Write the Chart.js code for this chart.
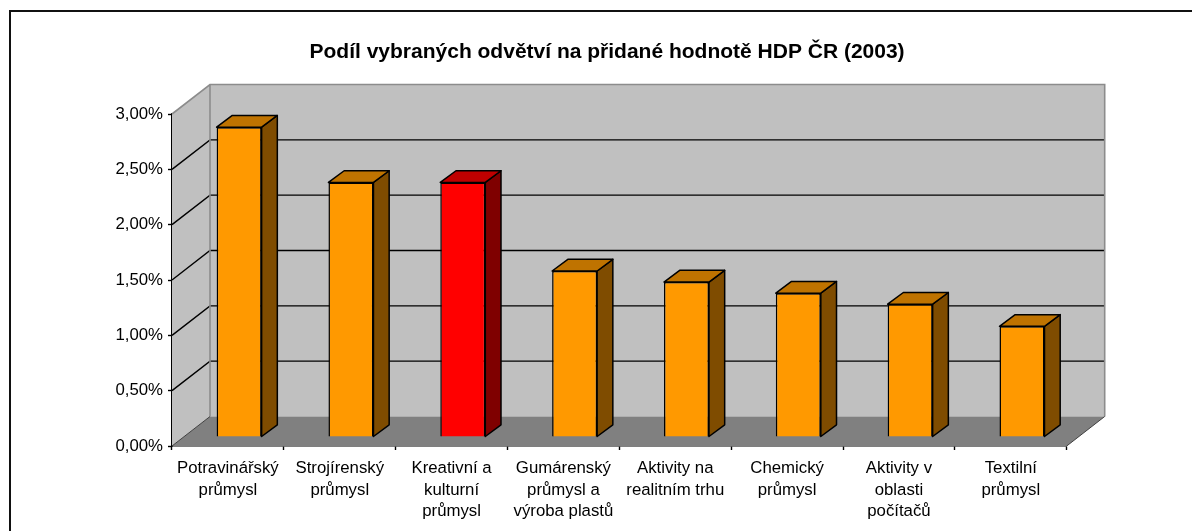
<!DOCTYPE html>
<html lang="cs">
<head>
<meta charset="utf-8">
<title>Podíl vybraných odvětví na přidané hodnotě HDP ČR (2003)</title>
<script src="https://cdn.jsdelivr.net/npm/chart.js@4/dist/chart.umd.min.js"></script>
<style>
  html, body { margin: 0; padding: 0; background: #fff; overflow: hidden; }
  #frame { position: absolute; left: 9px; top: 10px; width: 1183px; height: 521px; box-sizing: border-box;
           border-left: 2px solid #111; border-top: 2px solid #111; }
  #wrap { position: absolute; left: 0; top: 0; width: 1192px; height: 531px; }
</style>
</head>
<body>
<div id="frame"></div>
<div id="wrap"><canvas id="chart" width="1192" height="531"></canvas></div>
<script>
// Data
const categories = [
  ['Potravinářský', 'průmysl'],
  ['Strojírenský', 'průmysl'],
  ['Kreativní a', 'kulturní', 'průmysl'],
  ['Gumárenský', 'průmysl a', 'výroba plastů'],
  ['Aktivity na', 'realitním trhu'],
  ['Chemický', 'průmysl'],
  ['Aktivity v', 'oblasti', 'počítačů'],
  ['Textilní', 'průmysl']
];
const shares = [2.8, 2.3, 2.3, 1.5, 1.4, 1.3, 1.2, 1.0];
const tickLabels = ['0,00%', '0,50%', '1,00%', '1,50%', '2,00%', '2,50%', '3,00%'];
const chartTitle = 'Podíl vybraných odvětví na přidané hodnotě HDP ČR (2003)';
const highlighted = 2; // the red bar

// 3D look: how far the back wall and the bars are pushed
const wallDepth = { x: 38, y: -29.5 };
const barDepth = { x: 15.7, y: -11.7 };
const barShift = { x: 11.2, y: -9 };

const orange = { front: '#FF9900', top: '#BF7300', side: '#7F4C00' };
const red = { front: '#FF0000', top: '#BF0000', side: '#7F0000' };

function poly(ctx, pts, fill, stroke, lw) {
  ctx.beginPath();
  pts.forEach((p, i) => i ? ctx.lineTo(p[0], p[1]) : ctx.moveTo(p[0], p[1]));
  ctx.closePath();
  if (fill) { ctx.fillStyle = fill; ctx.fill(); }
  if (stroke) { ctx.strokeStyle = stroke; ctx.lineWidth = lw; ctx.stroke(); }
}

const box3d = {
  id: 'box3d',
  // the title sits a little right of the canvas centre
  afterLayout(chart) {
    chart.titleBlock.left += 17.7;
    chart.titleBlock.right += 17.7;
  },
  // walls, floor and gridlines behind the bars
  beforeDatasetsDraw(chart) {
    const { ctx, chartArea: a, scales: { y } } = chart;
    const dx = wallDepth.x, dy = wallDepth.y;
    ctx.save();
    ctx.lineJoin = 'miter';
    poly(ctx, [[a.left + dx, a.top + dy], [a.right + dx, a.top + dy], [a.right + dx, a.bottom + dy], [a.left + dx, a.bottom + dy]], '#C0C0C0');
    poly(ctx, [[a.left, a.top], [a.left + dx, a.top + dy], [a.left + dx, a.bottom + dy], [a.left, a.bottom]], '#C0C0C0');

    // gridlines run over the side wall and along the back wall
    ctx.strokeStyle = '#000';
    ctx.lineWidth = 1.4;
    y.ticks.forEach(t => {
      if (t.value === 0 || t.value === 3) return;
      const py = y.getPixelForValue(t.value);
      ctx.beginPath();
      ctx.moveTo(a.left, py);
      ctx.lineTo(a.left + dx, py + dy);
      ctx.lineTo(a.right + dx, py + dy);
      ctx.stroke();
    });

    // grey wall outline
    ctx.strokeStyle = '#8C8C8C';
    ctx.lineWidth = 1.6;
    ctx.beginPath();
    ctx.moveTo(a.left, a.top);
    ctx.lineTo(a.left + dx, a.top + dy);
    ctx.lineTo(a.right + dx, a.top + dy);
    ctx.lineTo(a.right + dx, a.bottom + dy);
    ctx.moveTo(a.left + dx, a.top + dy);
    ctx.lineTo(a.left + dx, a.bottom + dy);
    ctx.stroke();

    // floor
    poly(ctx, [[a.left, a.bottom], [a.left + dx, a.bottom + dy], [a.right + dx, a.bottom + dy], [a.right, a.bottom]], '#808080');
    ctx.strokeStyle = '#404040';
    ctx.lineWidth = 1;
    ctx.beginPath();
    ctx.moveTo(a.left, a.bottom);
    ctx.lineTo(a.left + dx, a.bottom + dy);
    ctx.moveTo(a.right, a.bottom);
    ctx.lineTo(a.right + dx, a.bottom + dy);
    ctx.stroke();
    ctx.restore();

    // side and top faces of every bar, taken from the bar elements
    const dbx = barDepth.x, dby = barDepth.y;
    ctx.save();
    ctx.translate(barShift.x, barShift.y);
    ctx.lineJoin = 'round';
    chart.getDatasetMeta(0).data.forEach((bar, i) => {
      const { x, y: top, base, width } = bar.getProps(['x', 'y', 'base', 'width'], true);
      const l = x - width / 2, r = x + width / 2;
      const c = i === highlighted ? red : orange;
      poly(ctx, [[r, top], [r + dbx, top + dby], [r + dbx, base + dby], [r, base]], c.side, '#000', 1.5);
      poly(ctx, [[l, top], [l + dbx, top + dby], [r + dbx, top + dby], [r, top]], c.top, '#000', 1.5);
    });
    ctx.restore();

    // front faces go through the library, just moved onto the floor
    ctx.save();
    ctx.translate(barShift.x, barShift.y);
  },
  afterDatasetsDraw(chart) {
    chart.ctx.restore();
  }
};

new Chart(document.getElementById('chart'), {
  type: 'bar',
  data: {
    labels: categories,
    datasets: [{
      data: shares,
      backgroundColor: ctx => ctx.dataIndex === highlighted ? red.front : orange.front,
      borderColor: '#000',
      borderWidth: 1.5,
      barPercentage: 0.4025,
      categoryPercentage: 1,
      clip: false
    }]
  },
  options: {
    responsive: false,
    animation: false,
    events: [],
    layout: { padding: { left: 112, right: 125.3, top: 0, bottom: 0 } },
    plugins: {
      legend: { display: false },
      tooltip: { enabled: false },
      title: {
        display: true,
        text: chartTitle,
        color: '#000',
        font: { family: '"Liberation Sans"', size: 21, weight: 'bold', lineHeight: 1.2 },
        padding: { top: 39.4, bottom: 49.4 }
      }
    },
    scales: {
      x: {
        afterFit: s => { s.height = 85; },
        border: { color: '#000', width: 1.6 },
        grid: { drawOnChartArea: false, color: '#000', tickLength: 4, tickWidth: 1.4 },
        ticks: {
          color: '#000',
          padding: 7.5,
          maxRotation: 0,
          autoSkip: false,
          font: { family: '"Liberation Sans"', size: 16.8, lineHeight: 1.29 }
        }
      },
      y: {
        min: 0,
        max: 3,
        afterFit: s => { s.width = 60; },
        border: { color: '#000', width: 1.6 },
        grid: { drawOnChartArea: false, color: '#000', tickLength: 4, tickWidth: 1.4 },
        ticks: {
          stepSize: 0.5,
          color: '#000',
          padding: 5,
          callback: (v, i) => tickLabels[i],
          font: { family: '"Liberation Sans"', size: 16.8 }
        }
      }
    }
  },
  plugins: [box3d]
});
</script>
</body>
</html>
